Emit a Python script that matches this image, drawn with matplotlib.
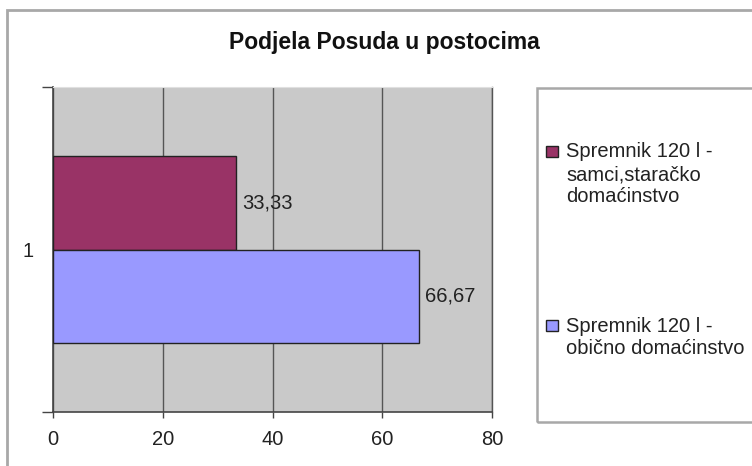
import numpy as np
import matplotlib.pyplot as plt
from matplotlib.patches import Rectangle

plt.rcParams['font.family'] = ['Liberation Sans', 'DejaVu Sans']

title = 'Podjela Posuda u postocima'
category = '1'
series_labels = ['Spremnik 120 l -\nsamci,staračko\ndomaćinstvo',
                 'Spremnik 120 l -\nobično domaćinstvo']
values = [33.33, 66.67]
colors = ['#993366', '#9999FF']
x_ticks = [0, 20, 40, 60, 80]

W, H = 752, 466
def fx(x):
    return x / W
def fy(y):
    return 1 - y / H

fs = 14.5

fig = plt.figure(figsize=(W / 100, H / 100), dpi=100)
fig.patch.set_facecolor('white')

# outer chart frame (runs off the right and bottom edge)
fig.patches.append(Rectangle((fx(7), fy(480)), fx(760) - fx(7), fy(10) - fy(480),
                             transform=fig.transFigure, fill=False,
                             edgecolor='#a8a8a8', linewidth=2, zorder=0))

ax = fig.add_axes([fx(53), fy(412), fx(492) - fx(53), fy(87) - fy(412)])
ax.set_facecolor('#c9c9c9')

h = 0.288
ypos = [1 + h / 2, 1 - h / 2]
bars = ax.barh(ypos, values, height=h, color=colors, edgecolor='#222222',
               linewidth=1, zorder=3)
for b, v in zip(bars, values):
    ax.annotate(f'{v:.2f}'.replace('.', ','), (v, b.get_y() + h / 2),
                xytext=(6, 0), textcoords='offset pixels', va='center',
                ha='left', fontsize=fs, color='#222222', zorder=4)

ax.set_xlim(0, 80)
ax.set_ylim(0.5, 1.5)
ax.set_xticks(x_ticks)
ax.set_xticklabels([str(t) for t in x_ticks], fontsize=fs, color='#222222')
ax.xaxis.grid(True, color='#555555', linewidth=1, zorder=1)
ax.set_axisbelow(True)
ax.tick_params(axis='x', length=4, width=1, color='#444444', pad=9)

ax.set_yticks([0.5, 1.5])
ax.set_yticklabels(['', ''])
ax.set_yticks([1], minor=True)
ax.set_yticklabels([category], minor=True, fontsize=fs, color='#222222')
ax.tick_params(axis='y', which='major', length=8, width=1, color='#444444')
ax.tick_params(axis='y', which='minor', length=0, pad=14)

for s in ['left', 'bottom']:
    ax.spines[s].set_color('#444444')
    ax.spines[s].set_linewidth(1.2)
ax.spines['top'].set_color('#e0e0e0')
ax.spines['right'].set_color('#555555')
ax.spines['right'].set_linewidth(1)

fig.text(fx(384), fy(42), title, ha='center', va='center', fontsize=16.5,
         fontweight='bold', color='#111111')

# legend box
fig.patches.append(Rectangle((fx(537), fy(422)), fx(770) - fx(537), fy(88) - fy(422),
                             transform=fig.transFigure, fill=False,
                             edgecolor='#a8a8a8', linewidth=1.8, zorder=1))
first_line_y = [152, 326]
line_step = 22.5
for lab, c, y0 in zip(series_labels, colors, first_line_y):
    fig.patches.append(Rectangle((fx(546), fy(y0 + 5)), fx(558) - fx(546), fy(y0 - 6) - fy(y0 + 5),
                                 transform=fig.transFigure, facecolor=c,
                                 edgecolor='#222222', linewidth=1, zorder=2))
    for i, line in enumerate(lab.split('\n')):
        fig.text(fx(566), fy(y0 + i * line_step), line, ha='left', va='center',
                 fontsize=fs, color='#222222')

fig.savefig('out.png', dpi=100)
